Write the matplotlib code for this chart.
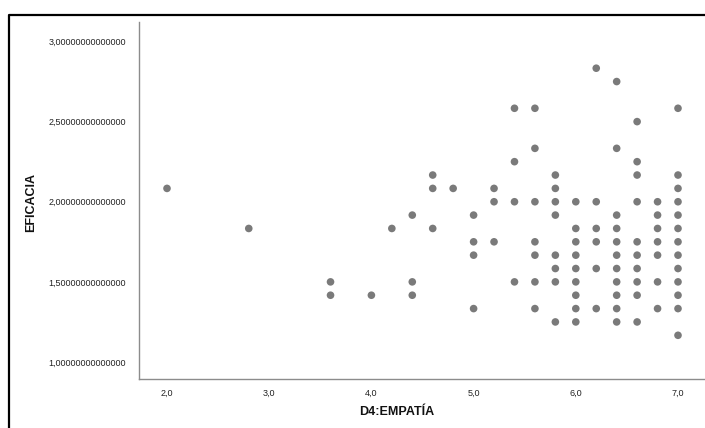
import matplotlib
matplotlib.use("Agg")
import matplotlib.pyplot as plt
from matplotlib.lines import Line2D

plt.rcParams['font.family'] = ['Liberation Sans', 'DejaVu Sans']

# Data: D4:EMPATÍA (x) vs EFICACIA (y), grouped by x column
col_x = [2.0, 2.8, 3.6, 4.0, 4.2, 4.4, 4.6, 4.8, 5.0, 5.2, 5.4, 5.6, 5.8, 6.0, 6.2, 6.4, 6.6, 6.8, 7.0]
col_y = [
    [2.0833],
    [1.8333],
    [1.5, 1.4167],
    [1.4167],
    [1.8333],
    [1.9167, 1.5, 1.4167],
    [2.1667, 2.0833, 1.8333],
    [2.0833],
    [1.9167, 1.75, 1.6667, 1.3333],
    [2.0833, 2.0, 1.75],
    [2.5833, 2.25, 2.0, 1.5],
    [2.5833, 2.3333, 2.0, 1.75, 1.6667, 1.5, 1.3333],
    [2.1667, 2.0833, 2.0, 1.9167, 1.6667, 1.5833, 1.5, 1.25],
    [2.0, 1.8333, 1.75, 1.6667, 1.5833, 1.5, 1.4167, 1.3333, 1.25],
    [2.8333, 2.0, 1.8333, 1.75, 1.5833, 1.3333],
    [2.75, 2.3333, 1.9167, 1.8333, 1.75, 1.6667, 1.5833, 1.5, 1.4167, 1.3333, 1.25],
    [2.5, 2.25, 2.1667, 2.0, 1.75, 1.6667, 1.5833, 1.5, 1.4167, 1.25],
    [2.0, 1.9167, 1.8333, 1.75, 1.6667, 1.5, 1.3333],
    [2.5833, 2.1667, 2.0833, 2.0, 1.9167, 1.8333, 1.75, 1.6667, 1.5833, 1.5, 1.4167, 1.3333, 1.1667],
]
x_ticks = [2.0, 3.0, 4.0, 5.0, 6.0, 7.0]
x_ticklabels = ["2,0", "3,0", "4,0", "5,0", "6,0", "7,0"]
y_ticks = [1.0, 1.5, 2.0, 2.5, 3.0]
y_ticklabels = ["1,00000000000000", "1,50000000000000", "2,00000000000000",
                "2,50000000000000", "3,00000000000000"]
x_label = "D4:EMPATÍA"
y_label = "EFICACIA"

xs, ys = [], []
for cx, cys in zip(col_x, col_y):
    for v in cys:
        xs.append(cx)
        ys.append(v)

W, H = 705, 428
fig = plt.figure(figsize=(W / 100, H / 100), dpi=100)
fig.patch.set_facecolor("white")

# axes placement in pixels
left_px, right_px, top_px, bottom_px = 138.5, 720, 22, 379
ax = fig.add_axes([left_px / W, (H - bottom_px) / H,
                   (right_px - left_px) / W, (bottom_px - top_px) / H])
ax.set_clip_on(False)

ax.scatter(xs, ys, s=30, color="#7a7a7a", edgecolors="none", zorder=3, clip_on=False)

ax.set_xlim(2 - (167 - left_px) / 102.2, 2 + (right_px - 167) / 102.2)
ax.set_ylim(1 - (bottom_px - 362) / 160.3, 3 + (41.5 - top_px) / 160.3)

ax.set_xticks(x_ticks)
ax.set_xticklabels(x_ticklabels)
ax.set_yticks(y_ticks)
ax.set_yticklabels(y_ticklabels)
ax.tick_params(axis="both", length=0, labelsize=6.5, colors="#222222")
ax.tick_params(axis="y", pad=9)
ax.tick_params(axis="x", pad=7)

for s in ["top", "right"]:
    ax.spines[s].set_visible(False)
for s in ["left", "bottom"]:
    ax.spines[s].set_color("#8c8c8c")
    ax.spines[s].set_linewidth(1.0)

fig.text(397 / W, 1 - 412 / H, x_label, ha="center", va="center",
         fontsize=9, fontweight="bold", color="#111111")
fig.text(31.5 / W, 1 - 203 / H, y_label, ha="center", va="center",
         rotation=90, fontsize=9, fontweight="bold", color="#111111")

# outer frame (top and left edges visible)
fig.add_artist(Line2D([8.5 / W, 8.5 / W, 1.05], [-0.05, 1 - 15 / H, 1 - 15 / H],
                      transform=fig.transFigure, color="black", linewidth=1.6))

fig.savefig("out.png", dpi=100)
